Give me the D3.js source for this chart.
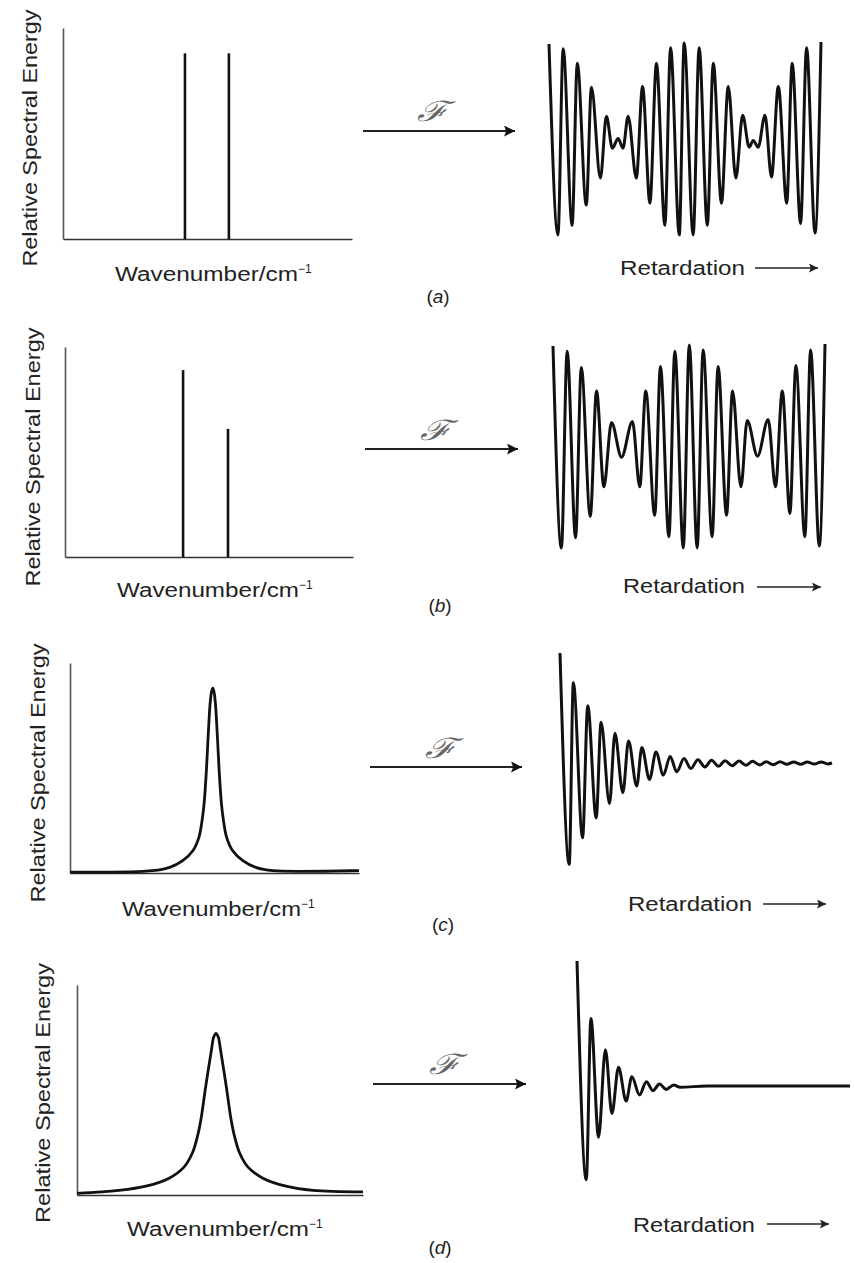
<!DOCTYPE html>
<html>
<head>
<meta charset="utf-8">
<script src="https://cdn.jsdelivr.net/npm/d3@7"></script>
<style>
  body { margin: 0; background: #fff; }
  text { font-family: "Liberation Sans", Arial, sans-serif; fill: #222; }
</style>
</head>
<body>
<div id="fig"></div>
<script>
// spectra: wavenumber (0-100 across axis) and relative energy (0-1 of axis height)
const linesA_x = [42.2, 57.4];
const linesA_h = [0.88, 0.88];
const linesB_x = [41.0, 56.6];
const linesB_h = [0.89, 0.61];

const bandC_x = [0, 28.6, 34.5, 39.0, 42.5, 44.6, 45.7, 46.4, 47.2, 47.8, 48.5, 49.0, 49.4, 49.8, 50.3, 51.0, 51.6, 52.4, 53.1, 54.2, 56.3, 59.8, 64.3, 70.2, 100];
const bandC_y = [0.004, 0.011, 0.027, 0.059, 0.106, 0.17, 0.25, 0.33, 0.49, 0.65, 0.81, 0.865, 0.88, 0.865, 0.81, 0.65, 0.49, 0.33, 0.25, 0.17, 0.106, 0.059, 0.027, 0.011, 0.012];

const bandD_x = [0, 14.7, 24.1, 32.2, 37.4, 40.3, 42.1, 43.3, 45.0, 47.0, 47.8, 48.6, 49.4, 50.2, 52.2, 53.9, 55.1, 56.9, 59.8, 65.0, 73.1, 82.5, 100];
const bandD_y = [0.008, 0.022, 0.042, 0.08, 0.133, 0.199, 0.278, 0.357, 0.516, 0.69, 0.752, 0.77, 0.752, 0.69, 0.516, 0.357, 0.278, 0.199, 0.133, 0.08, 0.042, 0.022, 0.015];

// interferograms: retardation (0-100) and signal (-1..1), extrema
const igramA_x = [0, 3.3, 5.2, 8.5, 10.4, 13.7, 15.6, 18.9, 21.1, 23.3, 25.4, 27.2, 29.1, 32.1, 34.4, 37.1, 39.5, 42.6, 44.7, 47.9, 49.7, 53.0, 55.2, 58.2, 60.4, 63.4, 65.9, 68.7, 71.2, 73.6, 75.1, 76.9, 79.4, 81.8, 84.3, 87.4, 89.4, 92.5, 94.7, 97.8, 100];
const igramA_y = [0.98, -1.0, 0.93, -0.90, 0.78, -0.69, 0.53, -0.41, 0.23, -0.10, 0.0, -0.10, 0.23, -0.41, 0.54, -0.67, 0.78, -0.90, 0.94, -1.0, 0.99, -1.0, 0.94, -0.90, 0.78, -0.67, 0.54, -0.41, 0.24, -0.09, -0.02, -0.09, 0.24, -0.40, 0.54, -0.67, 0.78, -0.88, 0.94, -0.98, 1.0];

const igramB_x = [0, 3.1, 5.2, 8.3, 10.4, 13.7, 16.0, 18.7, 21.5, 25.2, 29.2, 31.9, 34.1, 37.4, 39.5, 42.6, 44.8, 47.9, 50.1, 53.0, 55.2, 58.5, 60.7, 63.8, 66.0, 69.1, 71.4, 75.2, 79.1, 81.8, 84.3, 87.1, 89.3, 92.6, 94.7, 97.9, 100];
const igramB_y = [0.98, -1.0, 0.93, -0.90, 0.77, -0.69, 0.54, -0.40, 0.23, -0.11, 0.24, -0.40, 0.54, -0.68, 0.78, -0.89, 0.93, -1.0, 0.99, -1.0, 0.94, -0.89, 0.78, -0.68, 0.54, -0.40, 0.25, -0.10, 0.26, -0.40, 0.54, -0.66, 0.79, -0.89, 0.94, -0.98, 1.0];

const igramC_x = [0, 3.4, 4.9, 8.3, 10.2, 13.3, 15.1, 18.2, 20.2, 23.1, 25.2, 28.2, 30.1, 32.9, 35.3, 38.0, 40.5, 42.9, 45.6, 48.1, 50.7, 53.3, 55.7, 58.3, 60.7, 63.3, 65.8, 68.3, 70.8, 73.4, 75.8, 78.4, 80.9, 83.4, 85.9, 88.5, 90.9, 93.5, 96.0, 98.5, 100];
const igramC_y = [1.0, -0.92, 0.73, -0.68, 0.52, -0.50, 0.37, -0.37, 0.27, -0.27, 0.20, -0.21, 0.14, -0.15, 0.10, -0.11, 0.06, -0.08, 0.04, -0.05, 0.03, -0.036, 0.024, -0.03, 0.02, -0.025, 0.018, -0.02, 0.015, -0.018, 0.012, -0.015, 0.012, -0.012, 0.01, -0.012, 0.01, -0.01, 0.01, -0.008, 0];

const igramD_x = [0, 3.4, 5.1, 7.9, 10.4, 12.8, 15.2, 18.0, 20.1, 22.9, 25.4, 27.8, 30.2, 32.7, 35.4, 37.8, 47.6, 100];
const igramD_y = [1.0, -0.75, 0.54, -0.41, 0.29, -0.22, 0.15, -0.12, 0.074, -0.072, 0.035, -0.037, 0.016, -0.027, 0.008, -0.01, 0, 0];

const panelTags = ['a', 'b', 'c', 'd'];
const yTitle = 'Relative Spectral Energy';
const xTitle = 'Wavenumber/cm';
const igTitle = 'Retardation';

// page layout per panel (pixels)
const layout = [
  { spec: [63, 352, 28, 239], ig: [549, 821, 42, 235], arrow: [363, 515, 131], F: [432, 121],
    ylab: [37, 138, 257], xlab: [115, 312, 281], ret: [620, 745, 275, 755, 818, 268], tag: [438, 303] },
  { spec: [65, 353, 347, 557], ig: [553, 825, 344, 548], arrow: [365, 518, 449], F: [435, 440],
    ylab: [40, 457, 259], xlab: [117, 313, 597], ret: [623, 745, 593, 757, 821, 587], tag: [440, 612] },
  { spec: [70, 359, 663, 873], ig: [560, 832, 653, 873], arrow: [370, 522, 767], F: [440, 758],
    ylab: [45, 773, 259], xlab: [122, 315, 916], ret: [628, 752, 911, 763, 826, 904], tag: [443, 931] },
  { spec: [77, 363, 985, 1195], ig: [577, 850, 961, 1211], arrow: [373, 526, 1084], F: [444, 1074],
    ylab: [50, 1093, 260], xlab: [127, 323, 1236], ret: [633, 755, 1232, 767, 829, 1224], tag: [440, 1254] }
];

const spectra = [
  { type: 'lines', x: linesA_x, y: linesA_h },
  { type: 'lines', x: linesB_x, y: linesB_h },
  { type: 'band', x: bandC_x, y: bandC_y },
  { type: 'band', x: bandD_x, y: bandD_y }
];
const igrams = [
  { x: igramA_x, y: igramA_y },
  { x: igramB_x, y: igramB_y },
  { x: igramC_x, y: igramC_y },
  { x: igramD_x, y: igramD_y }
];

const width = 855;
const height = 1263;

const svg = d3.select('#fig')
  .append('svg')
  .attr('width', width)
  .attr('height', height)
  .attr('viewBox', [0, 0, width, height]);

const defs = svg.append('defs');
defs.append('marker')
  .attr('id', 'head')
  .attr('viewBox', '0 0 10 10')
  .attr('refX', 10).attr('refY', 5)
  .attr('markerWidth', 14).attr('markerHeight', 9)
  .attr('markerUnits', 'userSpaceOnUse')
  .attr('orient', 'auto')
  .append('path').attr('d', 'M0,0L10,5L0,10L2,5Z').attr('fill', '#222');
defs.append('marker')
  .attr('id', 'bighead')
  .attr('viewBox', '0 0 10 10')
  .attr('refX', 10).attr('refY', 5)
  .attr('markerWidth', 16).attr('markerHeight', 11)
  .attr('markerUnits', 'userSpaceOnUse')
  .attr('orient', 'auto')
  .append('path').attr('d', 'M0,0L10,5L0,10L2,5Z').attr('fill', '#111');

layout.forEach((L, i) => {
  const g = svg.append('g');
  const [sx0, sx1, sy0, sy1] = L.spec;

  const x = d3.scaleLinear().domain([0, 100]).range([sx0, sx1]);
  const y = d3.scaleLinear().domain([0, 1]).range([sy1, sy0]);

  // L-shaped axes, no ticks
  g.append('g')
    .attr('transform', `translate(0,${sy1})`)
    .call(d3.axisBottom(x).ticks(0).tickSizeOuter(0))
    .call(a => a.select('.domain').attr('stroke', '#333').attr('stroke-width', 1.6));
  g.append('g')
    .attr('transform', `translate(${sx0},0)`)
    .call(d3.axisLeft(y).ticks(0).tickSizeOuter(0))
    .call(a => a.select('.domain').attr('stroke', '#555').attr('stroke-width', 1.6));

  const s = spectra[i];
  if (s.type === 'lines') {
    g.append('g')
      .selectAll('line')
      .data(s.x.map((v, k) => ({ v, h: s.y[k] })))
      .join('line')
      .attr('x1', d => x(d.v)).attr('x2', d => x(d.v))
      .attr('y1', y(0)).attr('y2', d => y(d.h))
      .attr('stroke', '#111')
      .attr('stroke-width', 2.6);
  } else {
    const pts = s.x.map((v, k) => [v, s.y[k]]);
    g.append('path')
      .datum(pts)
      .attr('fill', 'none')
      .attr('stroke', '#111')
      .attr('stroke-width', 2.8)
      .attr('stroke-linejoin', 'round')
      .attr('d', d3.line().x(d => x(d[0])).y(d => y(d[1])).curve(d3.curveCatmullRom.alpha(0.5)));
  }

  // y title
  g.append('text')
    .attr('transform', `translate(${L.ylab[0]},${L.ylab[1]}) rotate(-90)`)
    .attr('text-anchor', 'middle')
    .attr('font-size', 21)
    .attr('textLength', L.ylab[2])
    .attr('lengthAdjust', 'spacingAndGlyphs')
    .text(yTitle);

  // x title with superscript
  const xt = g.append('text')
    .attr('x', L.xlab[0]).attr('y', L.xlab[2])
    .attr('font-size', 20);
  xt.append('tspan')
    .attr('textLength', L.xlab[1] - L.xlab[0] - 14)
    .attr('lengthAdjust', 'spacingAndGlyphs')
    .text(xTitle);
  xt.append('tspan')
    .attr('font-size', 12)
    .attr('dy', -8)
    .text('\u22121');

  // transform arrow
  g.append('line')
    .attr('x1', L.arrow[0]).attr('x2', L.arrow[1])
    .attr('y1', L.arrow[2]).attr('y2', L.arrow[2])
    .attr('stroke', '#222')
    .attr('stroke-width', 2.2)
    .attr('marker-end', 'url(#bighead)');
  g.append('text')
    .attr('transform', `translate(${L.F[0]},${L.F[1]}) scale(1.35,1)`)
    .attr('text-anchor', 'middle')
    .attr('font-family', '"DejaVu Serif", serif')
    .attr('font-style', 'italic')
    .attr('font-size', 28)
    .style('fill', '#666')
    .text('\u2131');

  // interferogram
  const [ix0, ix1, iyTop, iyBot] = L.ig;
  const rx = d3.scaleLinear().domain([0, 100]).range([ix0, ix1]);
  const ry = d3.scaleLinear().domain([-1, 1]).range([iyBot, iyTop]);
  const ig = igrams[i];
  g.append('path')
    .datum(ig.x.map((v, k) => [v, ig.y[k]]))
    .attr('fill', 'none')
    .attr('stroke', '#111')
    .attr('stroke-width', 3)
    .attr('stroke-linejoin', 'round')
    .attr('d', d3.line().x(d => rx(d[0])).y(d => ry(d[1])).curve(d3.curveMonotoneX));

  // retardation label and arrow
  g.append('text')
    .attr('x', L.ret[0]).attr('y', L.ret[2])
    .attr('font-size', 20)
    .attr('textLength', L.ret[1] - L.ret[0])
    .attr('lengthAdjust', 'spacingAndGlyphs')
    .text(igTitle);
  g.append('line')
    .attr('x1', L.ret[3]).attr('x2', L.ret[4])
    .attr('y1', L.ret[5]).attr('y2', L.ret[5])
    .attr('stroke', '#222')
    .attr('stroke-width', 1.6)
    .attr('marker-end', 'url(#head)');

  // panel tag
  const t = g.append('text')
    .attr('x', L.tag[0]).attr('y', L.tag[1])
    .attr('text-anchor', 'middle')
    .attr('font-size', 19);
  t.append('tspan').text('(');
  t.append('tspan').attr('font-style', 'italic').text(panelTags[i]);
  t.append('tspan').text(')');
});
</script>
</body>
</html>
